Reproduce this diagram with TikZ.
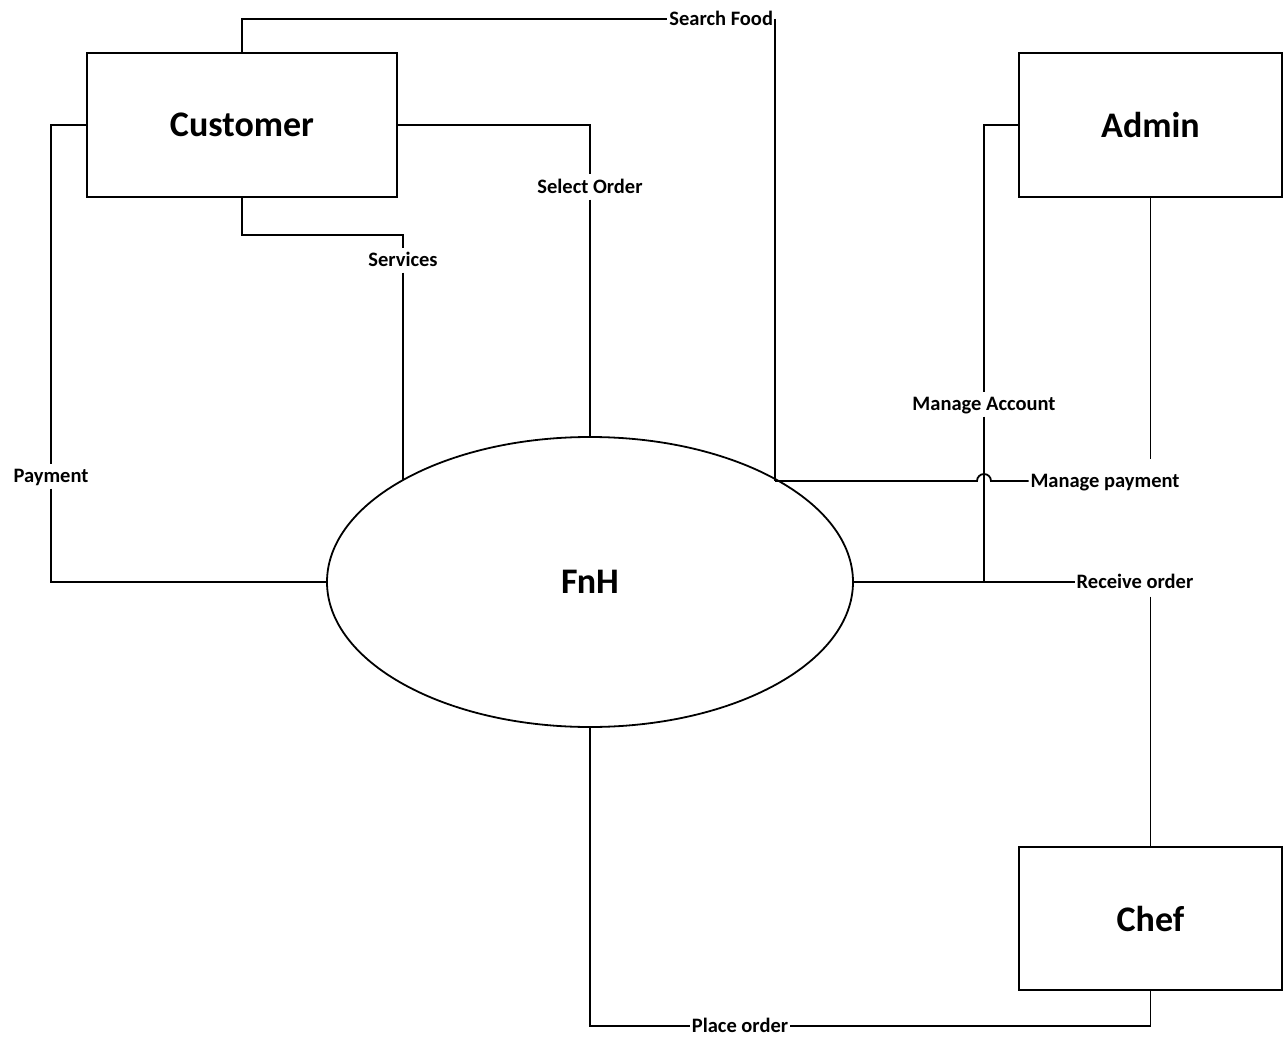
\documentclass[tikz,border=0pt]{standalone}
\usepackage{fontspec}
\setmainfont{Carlito}
\usetikzlibrary{shapes.geometric}
\begin{document}
\begin{tikzpicture}[x=1pt,y=-1pt,line width=1.8pt,
  entity/.style={draw,rectangle,minimum width=310pt,minimum height=144pt,
    inner sep=0pt,outer sep=0pt,font=\fontsize{36}{40}\selectfont\bfseries},
  process/.style={draw,ellipse,minimum width=526pt,minimum height=290pt,
    inner sep=0pt,outer sep=0pt,font=\fontsize{36}{40}\selectfont\bfseries},
  flowlbl/.style={inner xsep=2pt,inner ysep=6pt,outer sep=0pt,
    text height=13pt,text depth=0pt,font=\fontsize{20.5}{24}\selectfont\bfseries},
  flow/.style={draw,line join=miter}]
\useasboundingbox (0,0) rectangle (1283,1038);

% external entities and the central process
\node[entity] (cust) at (242,125) {Customer};
\node[entity,minimum width=263pt] (admin) at (1150.5,125) {Admin};
\node[entity,minimum width=263pt,minimum height=143pt] (chef) at (1150.5,918.5) {Chef};
\node[process] (fnh) at (590,582) {FnH};

% junction points on the process border
\coordinate (jp) at (775,481);
\coordinate (svin) at (403,480);

% flow labels
\node[flowlbl,anchor=east] (sf) at (775,19) {Search Food};
\node[flowlbl] (so) at (590,187) {Select Order};
\node[flowlbl] (sv) at (403,260) {Services};
\node[flowlbl] (pm) at (51,476) {Payment};
\node[flowlbl] (ma) at (984,404) {Manage Account};
\node[flowlbl] (mp) at (1105,481) {Manage payment};
\node[flowlbl] (ro) at (1135,582) {Receive order};
\node[flowlbl] (po) at (740,1026) {Place order};

% Search Food
\path[flow] (cust.north) |- (sf.west);
\path[flow] (sf.east) -- (sf.east |- jp);
% Select Order
\path[flow] (cust.east) -| (so.north);
\path[flow] (so.south) -- (so.south |- fnh.north);
% Services
\path[flow] (cust.south) -- ++(0,38) -| (sv.north);
\path[flow] (sv.south) -- (svin);
% Payment
\path[flow] (cust.west) -- ++(-36,0) -- (pm.north);
\path[flow] (pm.south) |- (fnh.west);
% Manage Account
\path[flow] (admin.west) -| (ma.north);
\path[flow] (ma.south) -- (ma.south |- fnh.east);
% Manage payment, hopping over the Manage Account line
\path[flow] (jp) -- ([xshift=-7pt]ma.south |- jp)
  arc[start angle=180,end angle=0,radius=7pt] -- (mp.west);
\path[flow,shorten >=10pt] (admin.south) -- (admin.south |- mp.north);
% Receive order
\path[flow] (fnh.east) -- (ro.west);
\path[flow,shorten <=2pt] (chef.north |- ro.south) -- (chef.north);
% Place order
\path[flow] (fnh.south) |- (po.west);
\path[flow] (po.east) -| (chef.south);
\end{tikzpicture}
\end{document}
